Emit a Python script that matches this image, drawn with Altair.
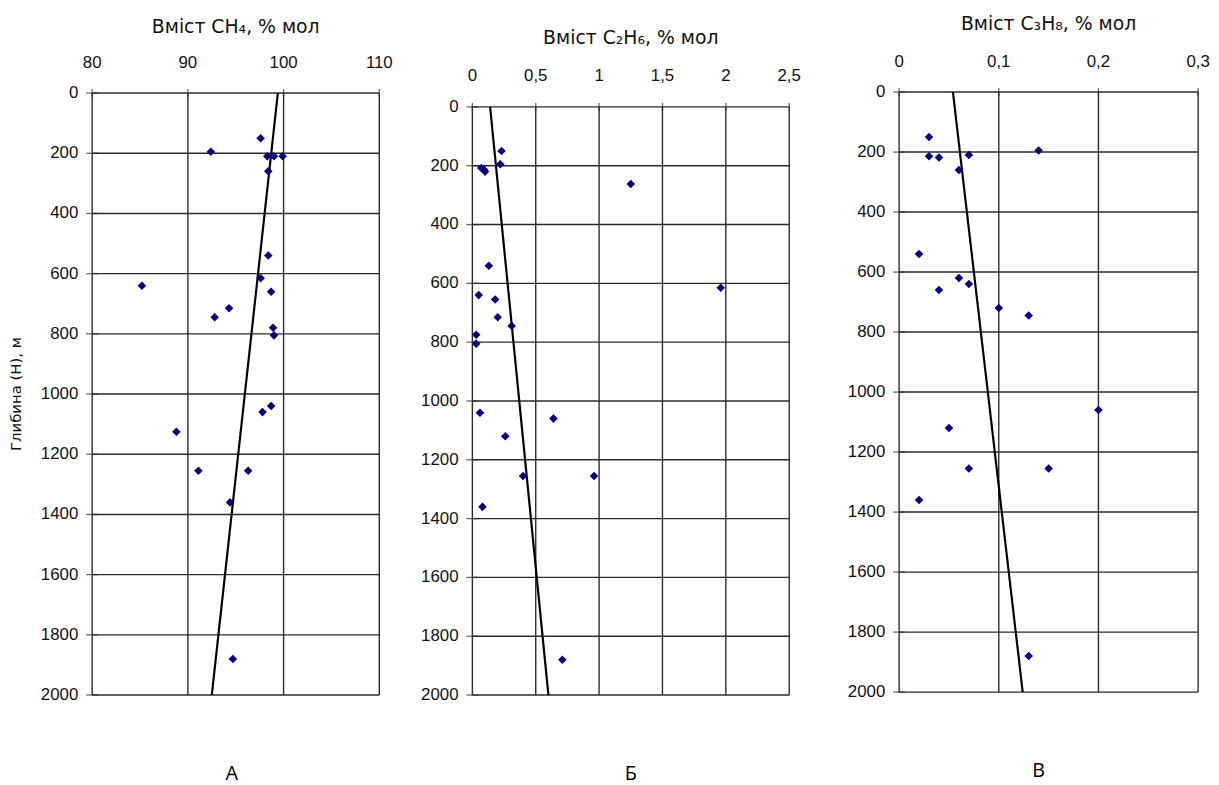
import altair as alt
import pandas as pd

# ---------------- data ----------------
DEPTH_TICKS = [0, 200, 400, 600, 800, 1000, 1200, 1400, 1600, 1800, 2000]

# Panel A: CH4
A_depth = [150, 195, 210, 210, 210, 260, 540, 615, 640, 660, 715, 745, 780, 805, 1040, 1060, 1125, 1255, 1255, 1360, 1880]
A_value = [97.6, 92.4, 98.3, 99.0, 99.9, 98.4, 98.4, 97.6, 85.2, 98.7, 94.3, 92.8, 98.9, 99.0, 98.7, 97.8, 88.8, 91.1, 96.3, 94.4, 94.7]
A_trend_x = [99.4, 92.5]
A_trend_depth = [0, 2000]
A_ticks = [80, 90, 100, 110]

# Panel Б: C2H6
B_depth = [150, 195, 208, 213, 220, 262, 540, 615, 640, 655, 715, 745, 775, 805, 1040, 1060, 1120, 1255, 1255, 1360, 1880]
B_value = [0.23, 0.22, 0.07, 0.09, 0.10, 1.25, 0.13, 1.96, 0.05, 0.18, 0.20, 0.31, 0.03, 0.03, 0.06, 0.64, 0.26, 0.40, 0.96, 0.08, 0.71]
B_trend_x = [0.14, 0.60]
B_trend_depth = [0, 2000]
B_ticks = [0, 0.5, 1, 1.5, 2, 2.5]

# Panel В: C3H8
C_depth = [150, 195, 214, 218, 210, 260, 540, 620, 660, 640, 720, 745, 1060, 1120, 1255, 1255, 1360, 1880]
C_value = [0.03, 0.14, 0.03, 0.04, 0.07, 0.06, 0.02, 0.06, 0.04, 0.07, 0.10, 0.13, 0.20, 0.05, 0.07, 0.15, 0.02, 0.13]
C_trend_x = [0.054, 0.124]
C_trend_depth = [0, 2000]
C_ticks = [0, 0.1, 0.2, 0.3]

TITLES = ["Вміст CH₄, % мол", "Вміст C₂H₆, %  мол", "Вміст C₃H₈, % мол"]
LETTERS = ["А", "Б", "В"]
Y_TITLE = "Глибина (Н), м"

GRID = "#2b2b2b"
POINT = "#000080"
TEXT = "#111111"
LABEL_FONT = "Liberation Sans"
TITLE_FONT = "DejaVu Sans"
CELL_H = 690


def fmt(v):
    return str(v).replace(".", ",")


def panel(depth, values, trend_x, trend_depth, ticks, title, letter,
          plot_left, plot_w, cell_w, zero_y, bottom_y, title_dy, label_dy, letter_dx, y_title):
    xdom = [ticks[0], ticks[-1]]
    xs = alt.Scale(domain=xdom, range=[plot_left, plot_left + plot_w], nice=False, zero=False)
    ys = alt.Scale(domain=[DEPTH_TICKS[0], DEPTH_TICKS[-1]], range=[zero_y, bottom_y],
                   nice=False, zero=False)

    def X(f):
        return alt.X(f, scale=xs, axis=None)

    def Y(f):
        return alt.Y(f, scale=ys, axis=None)

    xmid = (xdom[0] + xdom[1]) / 2
    ymid = (DEPTH_TICKS[0] + DEPTH_TICKS[-1]) / 2

    vgrid_df = pd.DataFrame({"x": ticks, "y0": DEPTH_TICKS[0], "y1": DEPTH_TICKS[-1]})
    hgrid_df = pd.DataFrame({"d": DEPTH_TICKS, "x0": xdom[0], "x1": xdom[1]})
    xlab_df = pd.DataFrame({"x": ticks, "y": DEPTH_TICKS[0], "label": [fmt(t) for t in ticks]})
    ylab_df = pd.DataFrame({"x": xdom[0], "y": DEPTH_TICKS, "label": [str(d) for d in DEPTH_TICKS]})
    title_df = pd.DataFrame({"x": [xmid], "y": [DEPTH_TICKS[0]], "label": [title]})
    letter_df = pd.DataFrame({"x": [xmid], "y": [DEPTH_TICKS[-1]], "label": [letter]})
    trend_df = pd.DataFrame({"v": trend_x, "d": trend_depth})
    pts_df = pd.DataFrame({"v": values, "d": depth})

    layers = [
        alt.Chart(vgrid_df).mark_rule(color=GRID, strokeWidth=1.4).encode(
            x=X("x:Q"), y=Y("y0:Q"), y2="y1:Q"),
        alt.Chart(hgrid_df).mark_rule(color=GRID, strokeWidth=1.4).encode(
            x=X("x0:Q"), x2="x1:Q", y=Y("d:Q")),
        # outward tick marks (half of each tick is hidden under the grid line)
        alt.Chart(xlab_df).mark_tick(orient="vertical", size=8, thickness=1.3, color=GRID).encode(
            x=X("x:Q"), y=Y("y:Q")),
        alt.Chart(ylab_df).mark_tick(orient="horizontal", size=12, thickness=1.3, color=GRID).encode(
            x=X("x:Q"), y=Y("y:Q")),
        # tick labels
        alt.Chart(xlab_df).mark_text(align="center", baseline="middle", dy=label_dy,
                                     font=LABEL_FONT, fontSize=17, color=TEXT).encode(
            x=X("x:Q"), y=Y("y:Q"), text="label:N"),
        alt.Chart(ylab_df).mark_text(align="right", baseline="middle", dx=-14,
                                     font=LABEL_FONT, fontSize=17, color=TEXT).encode(
            x=X("x:Q"), y=Y("y:Q"), text="label:N"),
        # panel title and letter
        alt.Chart(title_df).mark_text(align="center", baseline="middle", dy=title_dy,
                                      font=TITLE_FONT, fontSize=19, color=TEXT).encode(
            x=X("x:Q"), y=Y("y:Q"), text="label:N"),
        alt.Chart(letter_df).mark_text(align="center", baseline="middle", dx=letter_dx, dy=80,
                                       font="Open Sans", fontSize=20, color="black").encode(
            x=X("x:Q"), y=Y("y:Q"), text="label:N"),
        # trend line and data points
        alt.Chart(trend_df).mark_line(color="black", strokeWidth=2.2).encode(
            x=X("v:Q"), y=Y("d:Q"), order="d:Q"),
        alt.Chart(pts_df).mark_point(shape="diamond", filled=True, color=POINT,
                                     size=75, opacity=1).encode(
            x=X("v:Q"), y=Y("d:Q")),
    ]
    if y_title:
        ytitle_df = pd.DataFrame({"x": [xdom[0]], "y": [ymid], "label": [Y_TITLE]})
        layers.append(
            alt.Chart(ytitle_df).mark_text(align="center", baseline="middle", angle=270, dy=-77,
                                           font=TITLE_FONT, fontSize=15, color=TEXT).encode(
                x=X("x:Q"), y=Y("y:Q"), text="label:N"))
    return alt.layer(*layers).properties(width=cell_w, height=CELL_H)


# page layout: cell tops at y=8; cells start at x=8 (A), 400 (Б), 820 (В)
pA = panel(A_depth, A_value, A_trend_x, A_trend_depth, A_ticks, TITLES[0], LETTERS[0],
           plot_left=83, plot_w=290, cell_w=392, zero_y=81, bottom_y=689,
           title_dy=-67, label_dy=-30, letter_dx=-4, y_title=True)
pB = panel(B_depth, B_value, B_trend_x, B_trend_depth, B_ticks, TITLES[1], LETTERS[1],
           plot_left=73, plot_w=320, cell_w=420, zero_y=95, bottom_y=689,
           title_dy=-70, label_dy=-31, letter_dx=0, y_title=False)
pC = panel(C_depth, C_value, C_trend_x, C_trend_depth, C_ticks, TITLES[2], LETTERS[2],
           plot_left=82, plot_w=302, cell_w=384, zero_y=80, bottom_y=686,
           title_dy=-69, label_dy=-30, letter_dx=-10, y_title=False)

chart = alt.hconcat(pA, pB, pC, spacing=0).properties(
    padding={"left": 0, "top": 0, "right": 0, "bottom": 0},
    background="white",
).configure_view(stroke="transparent")

chart.save("out.html", embed_options={"renderer": "svg", "actions": False})
